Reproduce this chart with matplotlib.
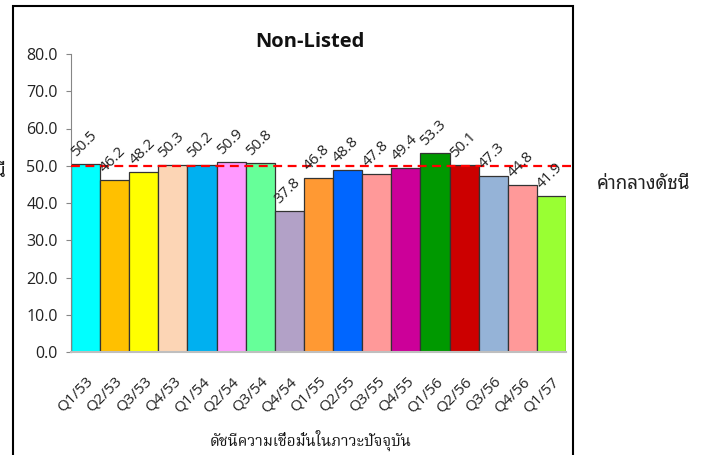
import matplotlib
matplotlib.use("Agg")
import matplotlib.pyplot as plt
import matplotlib.transforms as mtransforms
from matplotlib.patches import Rectangle

categories = ["Q1/53", "Q2/53", "Q3/53", "Q4/53", "Q1/54", "Q2/54", "Q3/54", "Q4/54",
              "Q1/55", "Q2/55", "Q3/55", "Q4/55", "Q1/56", "Q2/56", "Q3/56", "Q4/56", "Q1/57"]
values = [50.5, 46.2, 48.2, 50.3, 50.2, 50.9, 50.8, 37.8,
          46.8, 48.8, 47.8, 49.4, 53.3, 50.1, 47.3, 44.8, 41.9]
bar_colors = ["#00FFFF", "#FFC000", "#FFFF00", "#FCD5B5", "#00B0F0", "#FF99FF", "#66FF99", "#B2A1C7",
              "#FF9933", "#0066FF", "#FF9999", "#CC0099", "#009900", "#CC0000", "#95B3D7", "#FF9999", "#99FF33"]
mid_value = 50.0
yticks = [0, 10, 20, 30, 40, 50, 60, 70, 80]

latin = ["Open Sans", "DejaVu Sans"]
thai_sans = ["Noto Sans Thai Looped", "Noto Sans Thai", "DejaVu Sans"]
thai_serif = ["Noto Serif Thai", "Noto Sans Thai", "DejaVu Sans"]
plt.rcParams['font.family'] = latin

W, H = 715, 455
fig = plt.figure(figsize=(W / 100, H / 100), dpi=100)
ax = fig.add_axes([71 / W, 1 - 352 / H, (566 - 71) / W, (352 - 54) / H])

x = list(range(len(categories)))
ax.bar(x, values, width=1.0, color=bar_colors, edgecolor="#333333", linewidth=0.9, zorder=2)

for xi, v in zip(x, values):
    ax.annotate(f"{v:.1f}", (xi, v), xytext=(-1, 14.5), textcoords="offset points",
                ha="center", va="center", rotation=45, fontsize=11, color="#222222", zorder=4)

trans = mtransforms.blended_transform_factory(ax.transAxes, ax.transData)
ax.plot([0, (575 - 71) / (566 - 71)], [mid_value, mid_value], transform=trans, color="#FF0000",
        linestyle=(0, (4, 2.5)), linewidth=1.6, clip_on=False, zorder=3)

ax.set_xlim(-0.5, len(categories) - 0.5)
ax.set_ylim(0, 80)
ax.set_yticks(yticks)
ax.set_yticklabels([f"{t:.1f}" for t in yticks], fontsize=11.5, color="#222222")
ax.set_xticks(x)
ax.set_xticklabels(categories, rotation=45, ha="right", va="top", rotation_mode="anchor",
                   fontsize=11, color="#222222")
offset = mtransforms.ScaledTranslation(0 / 100, 0, fig.dpi_scale_trans)
for lab in ax.get_xticklabels():
    lab.set_transform(lab.get_transform() + offset)
ax.tick_params(axis="x", length=0, pad=16)
ax.tick_params(axis="y", length=3.6, width=0.8, color="#868686", pad=6)
for s in ["top", "right"]:
    ax.spines[s].set_visible(False)
ax.spines["left"].set_color("#868686")
ax.spines["left"].set_linewidth(0.8)
ax.spines["bottom"].set_color("#BFBFBF")
ax.spines["bottom"].set_linewidth(1.5)
ax.set_facecolor("none")

fig.text(310 / W, 1 - 42 / H, "Non-Listed", ha="center", va="center", fontsize=14.5,
         fontweight="bold", color="#111111")
fig.text(311 / W, 1 - 440 / H, "ดัชนีความเชื่อมั่นในภาวะปัจจุบัน", ha="center", va="center",
         fontsize=11, fontweight="bold", family=thai_serif, color="#111111")
fig.text(597 / W, 1 - 184 / H, "ค่ากลางดัชนี", ha="left", va="center", fontsize=13.5,
         family=thai_sans, color="#222222")
fig.text(7 / W, 1 - 172 / H, "ค่าดัชนี", ha="right", va="center", fontsize=13.5,
         family=thai_sans, color="#222222")

fig.patches.append(Rectangle((13 / W, -0.05), (573 - 13) / W, 1.05 - 6 / H, transform=fig.transFigure,
                             fill=False, edgecolor="black", linewidth=1.5, zorder=10))

fig.savefig("out.png", dpi=100)
